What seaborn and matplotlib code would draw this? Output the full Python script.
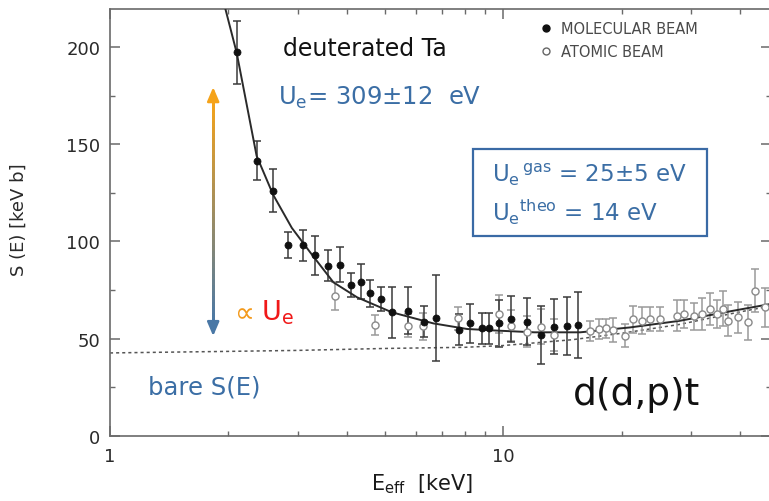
import numpy as np
import pandas as pd
import matplotlib
matplotlib.use("Agg")
import matplotlib.pyplot as plt
import seaborn as sns
from matplotlib.collections import LineCollection
from matplotlib.patches import Rectangle
from matplotlib.ticker import LogLocator, FixedLocator, NullFormatter, MultipleLocator

# ---------------- data ----------------
E_mol = [2.10, 2.36, 2.60, 2.84, 3.10, 3.32, 3.59, 3.85, 4.10, 4.34, 4.59, 4.89, 5.21, 5.74,
         6.29, 6.75, 7.74, 8.24, 8.83, 9.23, 9.77, 10.5, 11.5, 12.5, 13.5, 14.5, 15.5]
S_mol = [197.2, 141.5, 126.0, 98.2, 98.0, 93.0, 87.5, 88.0, 77.6, 79.3, 73.3, 70.4, 63.6, 64.4,
         58.7, 60.6, 54.6, 58.0, 55.3, 55.3, 57.9, 60.1, 58.7, 51.9, 56.2, 56.7, 57.0]
dS_mol = [16, 10, 11, 6.5, 8, 10, 8, 9, 6, 9, 7, 6, 13, 12,
          8, 22, 8, 10, 8, 8, 12, 12, 12, 15, 14, 15, 17]

E_atm = [3.74, 4.72, 5.74, 6.24, 7.69, 9.77, 10.5, 11.5, 12.5, 13.5, 16.6, 17.5, 18.3, 19.0,
         20.4, 21.4, 22.5, 23.7, 25.1, 27.7, 28.8, 30.6, 32.1, 33.6, 35.0, 36.3, 37.4, 39.6,
         41.9, 43.6, 46.4]
S_atm = [72.0, 57.0, 56.7, 56.4, 60.5, 62.7, 56.7, 53.6, 56.2, 51.9, 54.0, 55.0, 55.3, 54.5,
         51.5, 60.0, 59.2, 60.1, 60.1, 61.8, 62.7, 61.5, 62.7, 65.3, 62.7, 65.3, 59.2, 61.0,
         58.4, 74.7, 66.1]
dS_atm = [7, 5, 6, 7, 6, 10, 8, 8, 9, 8, 5, 5, 5, 6,
          6, 7, 7, 6, 6, 8, 7, 7, 8, 8, 7, 9, 8, 8,
          9, 11, 10]

# fitted (screened) curve
E_fit = [1.963, 2.10, 2.36, 2.60, 2.90, 3.23, 3.70, 4.25, 5.21, 6.64, 8.10, 9.84, 12.0,
         15.7, 21.0, 28.1, 38.5, 48.0]
S_fit = [220.0, 197.0, 144.0, 124.0, 107.0, 94.4, 79.0, 71.3, 63.6, 57.9, 55.0, 54.1, 53.3,
         53.3, 55.8, 59.2, 64.4, 67.9]

# bare S(E) (dotted)
E_bare = [1.0, 2.0, 3.0, 5.0, 8.0, 10.0, 15.0, 20.0, 28.0, 38.5, 48.0]
S_bare = [42.7, 43.5, 44.0, 45.0, 45.6, 46.5, 49.5, 52.8, 57.3, 63.1, 66.9]

legend_labels = ["MOLECULAR BEAM", "ATOMIC BEAM"]

# ---------------- figure ----------------
sns.set_theme(style="ticks")
plt.rcParams["font.family"] = ["DejaVu Sans"]
plt.rcParams["mathtext.fontset"] = "dejavusans"

fig = plt.figure(figsize=(7.69, 5.02), dpi=100)
ax = fig.add_axes([110 / 769, 1 - 437 / 502, 661 / 769, 427 / 502])

spine_col = "#6a6a6a"
mol_col = "#111111"
atm_col = "#9a9a9a"
blue_txt = "#3b6ea5"

# bare S(E)
sns.lineplot(x=E_bare, y=S_bare, ax=ax, color="#555555", lw=1.1,
             linestyle=(0, (2.0, 2.0)), sort=False, estimator=None, zorder=2)

# atomic beam error bars
ax.errorbar(E_atm, S_atm, yerr=dS_atm, fmt="none", ecolor=atm_col, elinewidth=1.1,
            capsize=3.2, capthick=1.1, zorder=3)
# molecular beam error bars
ax.errorbar(E_mol, S_mol, yerr=dS_mol, fmt="none", ecolor="#3a3a3a", elinewidth=1.1,
            capsize=3.2, capthick=1.1, zorder=4)

# fit curve
sns.lineplot(x=E_fit, y=S_fit, ax=ax, color="#2a2a2a", lw=1.4, sort=False,
             estimator=None, zorder=5)

df = pd.DataFrame({
    "E": E_mol + E_atm,
    "S": S_mol + S_atm,
    "beam": [legend_labels[0]] * len(E_mol) + [legend_labels[1]] * len(E_atm),
})
sns.scatterplot(data=df[df.beam == legend_labels[1]], x="E", y="S", ax=ax, marker="o",
                s=26, facecolor="white", edgecolor="#8a8a8a", linewidth=1.0, zorder=6,
                legend=False)
sns.scatterplot(data=df[df.beam == legend_labels[0]], x="E", y="S", ax=ax, marker="o",
                s=26, color=mol_col, edgecolor=mol_col, linewidth=0.5, zorder=7,
                legend=False)

# ---------------- axes styling ----------------
ax.set_xscale("log")
ax.set_xlim(1, 48)
ax.set_ylim(0, 219.5)
ax.xaxis.set_major_locator(FixedLocator([1, 10]))
ax.xaxis.set_major_formatter(matplotlib.ticker.FixedFormatter(["1", "10"]))
ax.xaxis.set_minor_locator(LogLocator(base=10, subs=np.arange(2, 10)))
ax.xaxis.set_minor_formatter(NullFormatter())
ax.yaxis.set_major_locator(MultipleLocator(50))
ax.yaxis.set_minor_locator(MultipleLocator(25))

for s in ax.spines.values():
    s.set_color(spine_col)
    s.set_linewidth(1.2)
ax.tick_params(which="both", direction="in", top=True, right=True, color=spine_col,
               labelcolor="#2a2a2a", labelsize=13)
ax.tick_params(which="major", length=7, width=1.1)
ax.tick_params(which="minor", length=3.5, width=1.0)
ax.tick_params(axis="x", which="major", pad=8)
ax.tick_params(axis="y", which="major", pad=7)

ax.set_xlabel(r"E$_\mathregular{eff}$  [keV]", fontsize=15, color="#1a1a1a")
ax.xaxis.set_label_coords(0.472, -0.082)
ax.set_ylabel("S (E) [keV b]", fontsize=13, color="#2a2a2a")
ax.yaxis.set_label_coords(-0.124, 0.51)

# legend
leg = ax.legend(
    handles=[
        plt.Line2D([], [], ls="none", marker="o", ms=5, mfc=mol_col, mec=mol_col),
        plt.Line2D([], [], ls="none", marker="o", ms=5, mfc="white", mec="#666666", mew=1.0),
    ],
    labels=legend_labels, loc="upper left", bbox_to_anchor=(0.64, 0.985), frameon=False,
    fontsize=10.5, handletextpad=0.5, handlelength=1.0, labelspacing=0.55, borderaxespad=0)
for t in leg.get_texts():
    t.set_color("#4a4a4a")

# ---------------- annotations ----------------
ax.text(0.262, 0.909, "deuterated Ta", transform=ax.transAxes, fontsize=17,
        color="#111111", va="center", ha="left")
ax.text(0.254, 0.794, r"U$_\mathregular{e}$= 309±12  eV", transform=ax.transAxes,
        fontsize=17.5, color=blue_txt, va="center", ha="left")

ax.add_patch(Rectangle((0.549, 0.468), 0.354, 0.204, transform=ax.transAxes, fill=False,
                       edgecolor="#3a6aa5", lw=1.6, zorder=8))
ax.text(0.578, 0.614, r"U$_\mathregular{e}$$^\mathregular{\,gas}$ = 25±5 eV",
        transform=ax.transAxes, fontsize=16.5, color=blue_txt, va="center", ha="left")
ax.text(0.578, 0.527, r"U$_\mathregular{e}$$^\mathregular{theo}$ = 14 eV",
        transform=ax.transAxes, fontsize=16.5, color=blue_txt, va="center", ha="left")

ax.text(0.0575, 0.115, "bare S(E)", transform=ax.transAxes, fontsize=17.5,
        color=blue_txt, va="center", ha="left")
ax.text(0.700, 0.098, "d(d,p)t", transform=ax.transAxes, fontsize=27,
        color="#111111", va="center", ha="left")

ax.text(0.180, 0.293, r"$\propto$", transform=ax.transAxes, fontsize=20,
        color="#f39a1c", va="center", ha="left")
ax.text(0.229, 0.29, r"U$_\mathregular{e}$", transform=ax.transAxes, fontsize=19.5,
        color="#f01818", va="center", ha="left")

# gradient double arrow (orange top -> blue bottom), overlapping segments
arrow_x = 1.83
arrow_top, arrow_bot = 179.3, 51.4
ys = np.linspace(arrow_top - 6, arrow_bot + 6, 41)
segs = [[(arrow_x, ys[i]), (arrow_x, ys[min(i + 2, len(ys) - 1)])] for i in range(len(ys) - 1)]
c_top = np.array(matplotlib.colors.to_rgb("#f5a31a"))
c_bot = np.array(matplotlib.colors.to_rgb("#4a78a6"))
fr = np.linspace(0, 1, len(segs))
cols = [tuple(c_top * (1 - f) + c_bot * f) for f in fr]
lc = LineCollection(segs, colors=cols, linewidths=1.8, zorder=4, antialiaseds=False)
ax.add_collection(lc)
ax.annotate("", xy=(arrow_x, arrow_top), xytext=(arrow_x, arrow_top - 7),
            arrowprops=dict(arrowstyle="-|>,head_width=0.3,head_length=0.7", color="#f5a31a",
                            lw=1.8, shrinkA=0, shrinkB=0))
ax.annotate("", xy=(arrow_x, arrow_bot), xytext=(arrow_x, arrow_bot + 7),
            arrowprops=dict(arrowstyle="-|>,head_width=0.3,head_length=0.7", color="#4a78a6",
                            lw=1.8, shrinkA=0, shrinkB=0))

fig.savefig("out.png", dpi=100)
